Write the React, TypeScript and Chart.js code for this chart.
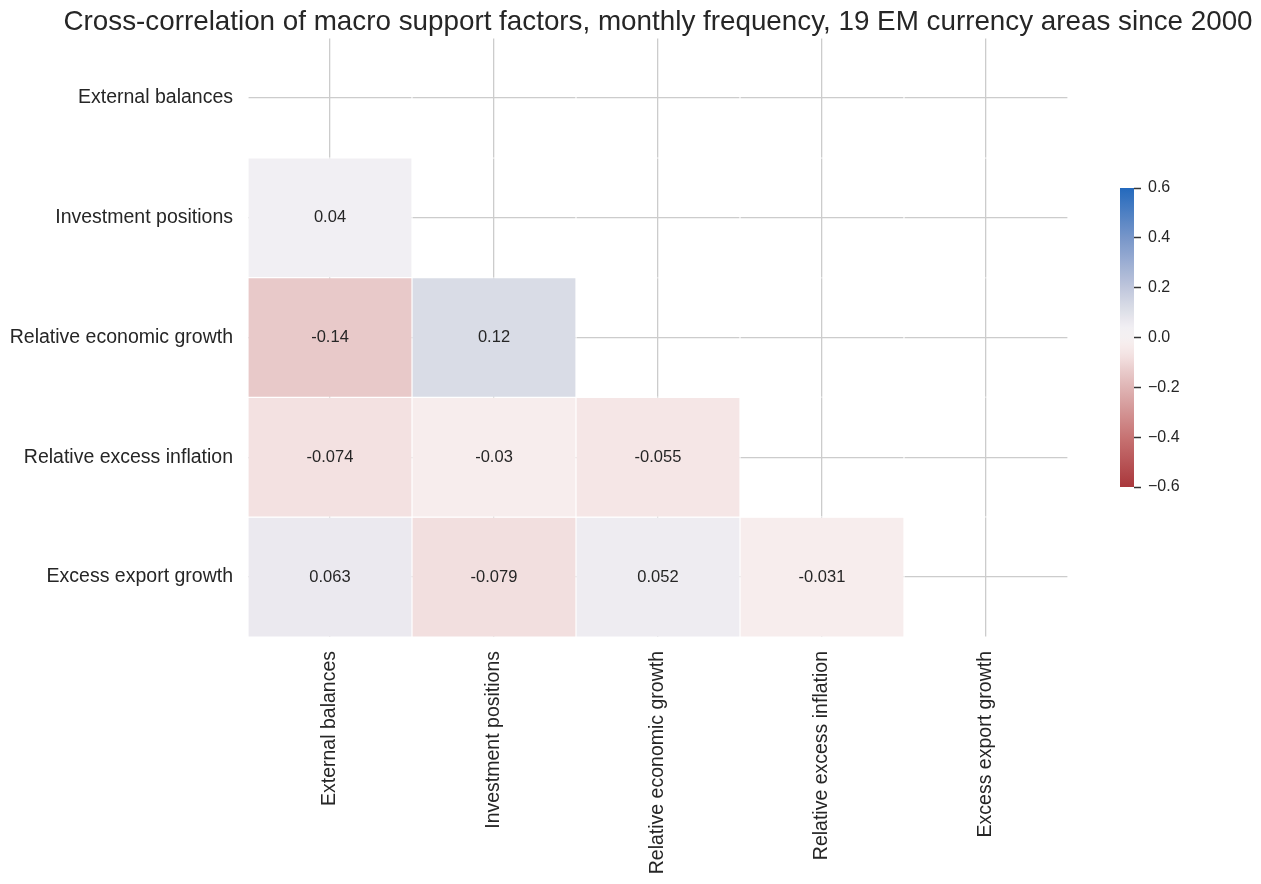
import React, { useEffect, useRef } from "react";
import { Chart, registerables } from "chart.js";

Chart.register(...registerables);

const TITLE =
  "Cross-correlation of macro support factors, monthly frequency, 19 EM currency areas since 2000";

const factors = [
  "External balances",
  "Investment positions",
  "Relative economic growth",
  "Relative excess inflation",
  "Excess export growth",
];

// Lower triangle of the correlation matrix (row i, columns 0..i-1)
const corrExternalBalances: number[] = [];
const corrInvestmentPositions = [0.04];
const corrRelativeEconomicGrowth = [-0.14, 0.12];
const corrRelativeExcessInflation = [-0.074, -0.03, -0.055];
const corrExcessExportGrowth = [0.063, -0.079, 0.052, -0.031];

const lowerTriangle = [
  corrExternalBalances,
  corrInvestmentPositions,
  corrRelativeEconomicGrowth,
  corrRelativeExcessInflation,
  corrExcessExportGrowth,
];

const colorbarTicks = [-0.6, -0.4, -0.2, 0, 0.2, 0.4, 0.6];
const colorMin = -0.6;
const colorMax = 0.6;

// colormap (style)
const CMAP: [number, string][] = [
  [-0.6, "#a9373b"],
  [-0.4, "#c77373"],
  [-0.2, "#dfb4b4"],
  [-0.14, "#e8c9c9"],
  [-0.074, "#f3e1e1"],
  [-0.03, "#f7eded"],
  [0, "#f4f0f1"],
  [0.04, "#f1eff3"],
  [0.063, "#ebe9ef"],
  [0.12, "#d9dce6"],
  [0.2, "#bfc6dc"],
  [0.4, "#7896c9"],
  [0.6, "#2369bd"],
];

const FONT = '"Liberation Sans", Arial, Helvetica, sans-serif';
const TEXT = "#262626";

function hexToRgb(h: string) {
  const n = parseInt(h.slice(1), 16);
  return [(n >> 16) & 255, (n >> 8) & 255, n & 255];
}

function colorFor(v: number): string {
  const x = Math.max(colorMin, Math.min(colorMax, v));
  for (let i = 0; i < CMAP.length - 1; i++) {
    const [v0, c0] = CMAP[i];
    const [v1, c1] = CMAP[i + 1];
    if (x >= v0 && x <= v1) {
      const t = (x - v0) / (v1 - v0);
      const a = hexToRgb(c0);
      const b = hexToRgb(c1);
      const r = a.map((q, k) => Math.round(q + (b[k] - q) * t));
      return `rgb(${r[0]},${r[1]},${r[2]})`;
    }
  }
  return CMAP[CMAP.length - 1][1];
}

function fmt2g(v: number): string {
  return String(parseFloat(v.toPrecision(2)));
}

export default function App() {
  const mainRef = useRef<HTMLCanvasElement | null>(null);
  const cbRef = useRef<HTMLCanvasElement | null>(null);

  useEffect(() => {
    document.body.style.margin = "0";
    Chart.defaults.font.family = FONT;

    const datasets = factors.map((rowName, r) => ({
      label: rowName,
      data: factors.map(() => [r - 0.5, r + 0.5]),
      backgroundColor: factors.map((_, c) =>
        c < r ? colorFor(lowerTriangle[r][c]) : "rgba(0,0,0,0)"
      ),
      borderColor: "#ffffff",
      borderWidth: 0.6,
      borderSkipped: false,
      grouped: false,
      categoryPercentage: 1,
      barPercentage: 1,
      inflateAmount: 0,
    }));

    const annotatePlugin = {
      id: "annotate",
      afterDatasetsDraw(chart: any) {
        const ctx = chart.ctx;
        ctx.save();
        ctx.font = `16.5px ${FONT}`;
        ctx.fillStyle = TEXT;
        ctx.textAlign = "center";
        ctx.textBaseline = "middle";
        lowerTriangle.forEach((row, r) => {
          const meta = chart.getDatasetMeta(r);
          row.forEach((v, c) => {
            const el = meta.data[c] as any;
            const cy = (el.y + el.base) / 2;
            ctx.fillText(fmt2g(v), el.x, cy);
          });
        });
        ctx.restore();
      },
    };

    const titlePlugin = {
      id: "customTitle",
      afterDraw(chart: any) {
        const ctx = chart.ctx;
        const ca = chart.chartArea;
        ctx.save();
        ctx.font = `27.8px ${FONT}`;
        ctx.fillStyle = TEXT;
        ctx.textAlign = "center";
        ctx.textBaseline = "middle";
        ctx.fillText(TITLE, (ca.left + ca.right) / 2, 22);
        ctx.restore();
      },
    };

    const main = new Chart(mainRef.current as HTMLCanvasElement, {
      type: "bar",
      data: { labels: factors, datasets: datasets as any },
      options: {
        animation: false,
        responsive: true,
        maintainAspectRatio: false,
        layout: { padding: { top: 38, right: 193, bottom: 0, left: 0 } },
        plugins: {
          legend: { display: false },
          tooltip: { enabled: false },
          title: { display: false },
        },
        scales: {
          x: {
            type: "category",
            offset: true,
            grid: {
              offset: false,
              color: "#cccccc",
              lineWidth: 1.3,
              drawTicks: false,
            },
            border: { display: false },
            ticks: {
              minRotation: 90,
              maxRotation: 90,
              autoSkip: false,
              padding: 14,
              color: TEXT,
              font: { size: 19.5, family: FONT },
            },
            afterFit: (s: any) => {
              s.height = 247;
            },
          },
          y: {
            type: "linear",
            reverse: true,
            min: -0.5,
            max: 4.5,
            afterBuildTicks: (s: any) => {
              s.ticks = factors.map((_, i) => ({ value: i }));
            },
            grid: {
              color: "#cccccc",
              lineWidth: 1.3,
              drawTicks: false,
            },
            border: { display: false },
            ticks: {
              padding: 15,
              color: TEXT,
              font: { size: 19.5, family: FONT },
              callback: (v: any) => factors[Math.round(Number(v))] ?? "",
            },
            afterFit: (s: any) => {
              s.width = 248;
            },
          },
        } as any,
      },
      plugins: [annotatePlugin, titlePlugin],
    });

    const cb = new Chart(cbRef.current as HTMLCanvasElement, {
      type: "bar",
      data: {
        labels: ["colorbar"],
        datasets: [
          {
            data: [[colorMin, colorMax]] as any,
            backgroundColor: (ctx: any) => {
              const chart = ctx.chart;
              if (!chart.chartArea) return "rgba(0,0,0,0)";
              const y = chart.scales.y;
              const y0 = y.getPixelForValue(colorMin);
              const y1 = y.getPixelForValue(colorMax);
              const g = chart.ctx.createLinearGradient(0, y0, 0, y1);
              const N = 60;
              for (let i = 0; i <= N; i++) {
                const t = i / N;
                g.addColorStop(t, colorFor(colorMin + (colorMax - colorMin) * t));
              }
              return g;
            },
            borderWidth: 0,
            categoryPercentage: 1,
            barPercentage: 1,
            inflateAmount: 0,
          } as any,
        ],
      },
      options: {
        animation: false,
        responsive: true,
        maintainAspectRatio: false,
        layout: { padding: { top: 18, bottom: 18, left: 0, right: 0 } },
        plugins: {
          legend: { display: false },
          tooltip: { enabled: false },
        },
        scales: {
          x: { display: false },
          y: {
            position: "right",
            min: colorMin,
            max: colorMax,
            afterBuildTicks: (s: any) => {
              s.ticks = colorbarTicks.map((v) => ({ value: v }));
            },
            grid: {
              drawOnChartArea: false,
              drawTicks: true,
              tickLength: 7,
              tickColor: "#333333",
              tickWidth: 1.5,
            },
            border: { display: false },
            ticks: {
              padding: 7,
              color: TEXT,
              font: { size: 16, family: FONT },
              callback: (v: any) => {
                const n = Number(v);
                const s = Math.abs(n).toFixed(1);
                return n < -1e-9 ? "\u2212" + s : s;
              },
            },
            afterFit: (s: any) => {
              s.width = 60;
            },
          },
        } as any,
      },
    });

    return () => {
      main.destroy();
      cb.destroy();
    };
  }, []);

  return (
    <div
      style={{
        position: "fixed",
        left: 0,
        top: 0,
        width: 1261,
        height: 884,
        background: "#ffffff",
        overflow: "hidden",
      }}
    >
      <div style={{ position: "absolute", left: 0, top: 0, width: 1261, height: 884 }}>
        <canvas ref={mainRef} />
      </div>
      <div style={{ position: "absolute", left: 1120, top: 170, width: 74, height: 335 }}>
        <canvas ref={cbRef} />
      </div>
    </div>
  );
}
